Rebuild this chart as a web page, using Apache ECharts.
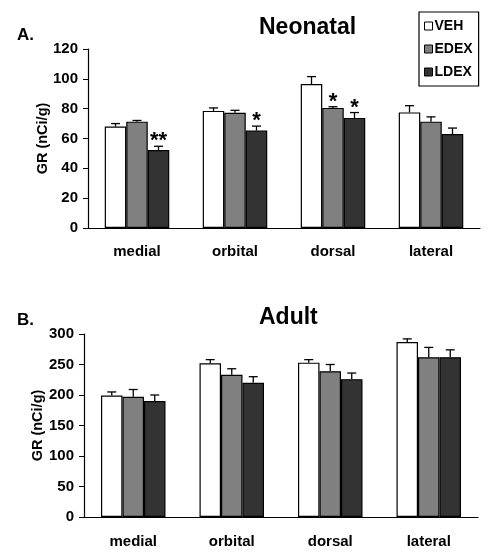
<!DOCTYPE html>
<html><head><meta charset="utf-8">
<script src="https://cdn.jsdelivr.net/npm/echarts@6/dist/echarts.min.js"></script>
<style>html,body{margin:0;padding:0;background:#fff}#c{width:492px;height:560px}</style>
</head><body><div id="c"></div>
<script>
const categories = ['medial', 'orbital', 'dorsal', 'lateral'];
const seriesNames = ['VEH', 'EDEX', 'LDEX'];

const neoVEH = [68, 78.5, 96.5, 77.5];
const neoVEHErr = [2, 2, 5, 4.5];
const neoEDEX = [71.3, 77.3, 80.5, 71.3];
const neoEDEXErr = [0.8, 1.6, 0.8, 3.2];
const neoLDEX = [52.3, 65.3, 73.8, 63];
const neoLDEXErr = [2.5, 3, 3.6, 4];
const neoVEHStars = ['', '', '', ''];
const neoEDEXStars = ['', '', '*', ''];
const neoLDEXStars = ['**', '*', '*', ''];

const adultVEH = [199, 252, 253, 287];
const adultVEHErr = [6, 6, 5, 5];
const adultEDEX = [197, 233, 239, 262];
const adultEDEXErr = [12, 10, 11, 16];
const adultLDEX = [190, 220, 226, 262];
const adultLDEXErr = [10, 10, 10, 12];
const adultStars = ['', '', '', ''];

const neoTicks = {min: 0, max: 120, interval: 20};
const adultTicks = {min: 0, max: 300, interval: 50};

const FONT = '"Liberation Sans", Arial, sans-serif';
const colors = ['#ffffff', '#808080', '#333333'];
const BAR_W = 21.5;

function barSeries(name, idx, data, gi) {
  return {
    type: 'bar', name: name, xAxisIndex: gi, yAxisIndex: gi,
    data: data, barWidth: BAR_W, barGap: '0%',
    itemStyle: {color: colors[idx], borderColor: '#000', borderWidth: 1.2},
    z: 2
  };
}
function errSeries(name, idx, vals, errs, stars, gi) {
  return {
    type: 'custom', name: name, xAxisIndex: gi, yAxisIndex: gi, z: 5,
    data: vals.map((v, i) => [i, v, errs[i]]),
    renderItem: function (params, api) {
      const x = api.value(0), y = api.value(1), e = api.value(2);
      const star = stars[params.dataIndex];
      const off = (idx - 1) * BAR_W;
      const p0 = api.coord([x, y]);
      const p1 = api.coord([x, y + e]);
      const cx = p0[0] + off;
      const children = [
        {type: 'line', shape: {x1: cx, y1: p0[1], x2: cx, y2: p1[1]}, style: {stroke: '#000', lineWidth: 1.3}},
        {type: 'line', shape: {x1: cx - 4.5, y1: p1[1], x2: cx + 4.5, y2: p1[1]}, style: {stroke: '#000', lineWidth: 1.3}}
      ];
      if (star) {
        children.push({type: 'text', style: {text: star, x: cx, y: p1[1] + 6, align: 'center', verticalAlign: 'bottom',
          font: 'bold 22px ' + FONT, fill: '#000'}});
      }
      return {type: 'group', children: children};
    },
    tooltip: {show: false}
  };
}

const axisLabelStyle = {fontFamily: FONT, fontWeight: 'bold', fontSize: 15, color: '#000'};
function xAx(gi, margin) {
  return {type: 'category', gridIndex: gi, data: categories,
    axisLine: {lineStyle: {color: '#000', width: 1.2}}, axisTick: {show: false},
    axisLabel: Object.assign({margin: margin}, axisLabelStyle)};
}
function yAx(gi, t, gap) {
  return {type: 'value', gridIndex: gi, min: t.min, max: t.max, interval: t.interval,
    name: 'GR (nCi/g)', nameLocation: 'middle', nameGap: gap, nameRotate: 90,
    nameMoveOverlap: false,
    nameTextStyle: {fontFamily: FONT, fontWeight: 'bold', fontSize: 14.5, color: '#000'},
    axisLine: {show: true, lineStyle: {color: '#000', width: 1.2}},
    axisTick: {show: true, inside: false, length: 5, lineStyle: {color: '#000'}},
    splitLine: {show: false},
    axisLabel: Object.assign({margin: 10}, axisLabelStyle)};
}

const chart = echarts.init(document.getElementById('c'), null, {renderer: 'canvas'});
chart.setOption({
  animation: false,
  backgroundColor: '#fff',
  title: [
    {text: 'A.', left: 12, top: 22, textStyle: {fontFamily: FONT, fontWeight: 'bold', fontSize: 17, color: '#000'}},
    {text: 'Neonatal', left: 254, top: 11, textStyle: {fontFamily: FONT, fontWeight: 'bold', fontSize: 23, color: '#000'}},
    {text: 'B.', left: 12, top: 307, textStyle: {fontFamily: FONT, fontWeight: 'bold', fontSize: 17, color: '#000'}},
    {text: 'Adult', left: 254, top: 301, textStyle: {fontFamily: FONT, fontWeight: 'bold', fontSize: 23, color: '#000'}}
  ],
  legend: {
    data: seriesNames, orient: 'vertical', left: 419, top: 12, width: 61,
    padding: [7, 6, 7, 5], itemGap: 9, itemWidth: 8, itemHeight: 8,
    borderColor: '#000', borderWidth: 1.2,
    icon: 'rect',
    itemStyle: {borderColor: '#000', borderWidth: 1},
    textStyle: {fontFamily: FONT, fontWeight: 'bold', fontSize: 14, color: '#000', padding: [0, 0, 0, -3]}
  },
  grid: [
    {left: 88, right: 12, top: 49, height: 179},
    {left: 84, right: 14, top: 334, height: 183}
  ],
  xAxis: [xAx(0, 16), xAx(1, 17)],
  yAxis: [yAx(0, neoTicks, 38), yAx(1, adultTicks, 39)],
  series: [
    barSeries('VEH', 0, neoVEH, 0),
    barSeries('EDEX', 1, neoEDEX, 0),
    barSeries('LDEX', 2, neoLDEX, 0),
    errSeries('VEH', 0, neoVEH, neoVEHErr, neoVEHStars, 0),
    errSeries('EDEX', 1, neoEDEX, neoEDEXErr, neoEDEXStars, 0),
    errSeries('LDEX', 2, neoLDEX, neoLDEXErr, neoLDEXStars, 0),
    barSeries('VEH', 0, adultVEH, 1),
    barSeries('EDEX', 1, adultEDEX, 1),
    barSeries('LDEX', 2, adultLDEX, 1),
    errSeries('VEH', 0, adultVEH, adultVEHErr, adultStars, 1),
    errSeries('EDEX', 1, adultEDEX, adultEDEXErr, adultStars, 1),
    errSeries('LDEX', 2, adultLDEX, adultLDEXErr, adultStars, 1)
  ]
});
</script></body></html>
